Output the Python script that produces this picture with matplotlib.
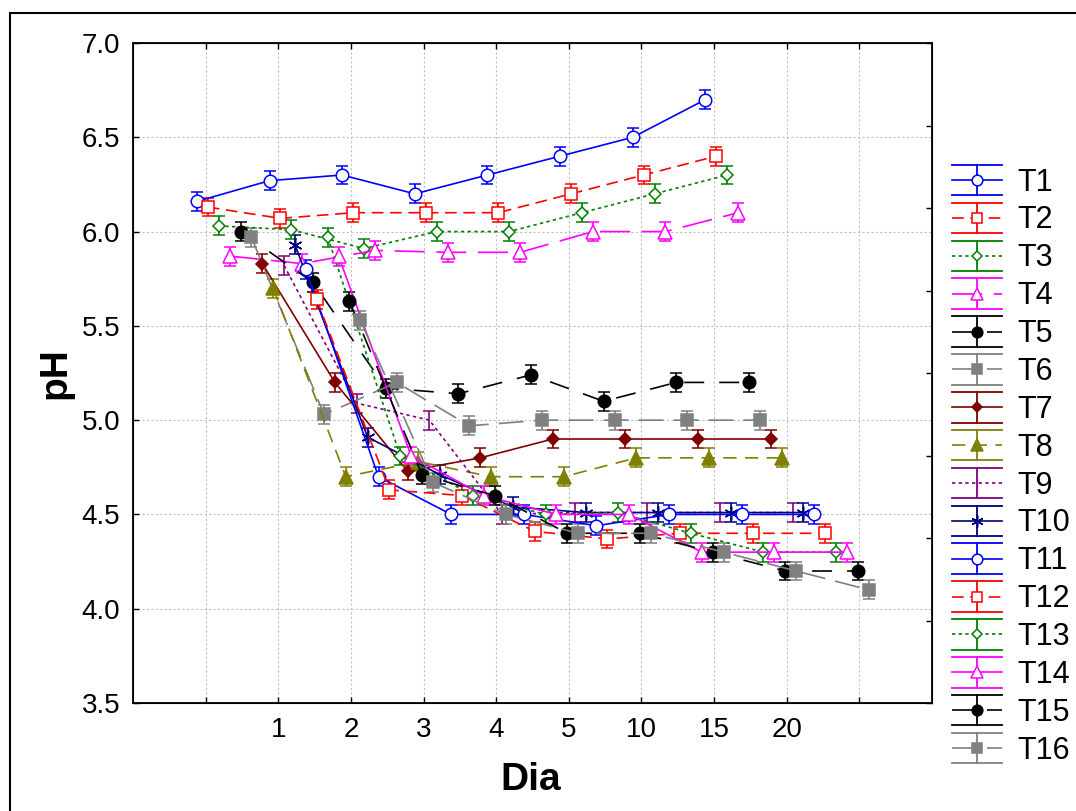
import matplotlib
matplotlib.use('Agg')
import matplotlib.pyplot as plt
from matplotlib.lines import Line2D
from matplotlib.legend_handler import HandlerBase
from matplotlib.patches import Rectangle

plt.rcParams['font.family'] = ['Liberation Sans', 'DejaVu Sans']

# eixo x: posicoes iguais, rotulos dos dias
dia_labels = ['', '1', '2', '3', '4', '5', '10', '15', '20', '']

# valores de pH por tratamento (8 pontos cada)
T1 = [6.16, 6.27, 6.30, 6.20, 6.30, 6.40, 6.50, 6.70]
T2 = [6.13, 6.07, 6.10, 6.10, 6.10, 6.20, 6.30, 6.40]
T3 = [6.03, 6.01, 5.91, 6.00, 6.00, 6.10, 6.20, 6.30]
T4 = [5.87, 5.83, 5.90, 5.89, 5.89, 6.00, 6.00, 6.10]
T5 = [6.00, 5.73, 5.17, 5.14, 5.24, 5.10, 5.20, 5.20]
T6 = [5.97, 5.03, 5.20, 4.97, 5.00, 5.00, 5.00, 5.00]
T7 = [5.83, 5.20, 4.73, 4.80, 4.90, 4.90, 4.90, 4.90]
T8 = [5.70, 4.70, 4.78, 4.70, 4.70, 4.80, 4.80, 4.80]
T9 = [5.82, 5.09, 5.00, 4.50, 4.51, 4.51, 4.51, 4.51]
T10 = [5.93, 4.91, 4.71, 4.54, 4.51, 4.51, 4.51, 4.51]
T11 = [5.80, 4.70, 4.50, 4.50, 4.44, 4.50, 4.50, 4.50]
T12 = [5.64, 4.63, 4.60, 4.41, 4.37, 4.40, 4.40, 4.40]
T13 = [5.97, 4.81, 4.60, 4.50, 4.51, 4.40, 4.30, 4.30]
T14 = [5.87, 4.81, 4.60, 4.50, 4.50, 4.30, 4.30, 4.30]
T15 = [5.63, 4.71, 4.60, 4.40, 4.40, 4.30, 4.20, 4.20]
T16 = [5.53, 4.67, 4.50, 4.40, 4.40, 4.30, 4.20, 4.10]
erro = 0.05  # erro padrao (aprox. igual em todos)

series = [T1, T2, T3, T4, T5, T6, T7, T8, T9, T10, T11, T12, T13, T14, T15, T16]
nomes = ['T%d' % (i + 1) for i in range(16)]

# estilo de cada serie (cor, linha, marcador, preenchimento, tamanho)
cores = ['#0000ff', '#ff0000', '#008000', '#ff00ff', '#000000', '#808080', '#800000', '#808000',
         '#800080', '#000080', '#0000ff', '#ff0000', '#008000', '#ff00ff', '#000000', '#808080']
linhas = ['-', (0, (7, 4)), (0, (2, 2)), (0, (18, 7)), (0, (12, 9)), (0, (15, 6)), '-', (0, (8, 5)),
          (0, (2, 2)), '-', '-', (0, (7, 4)), (0, (2, 2)), '-', (0, (12, 9)), (0, (15, 6))]
marcas = ['o', 's', 'D', '^', 'o', 's', 'D', '^', 'None', (6, 2, 0), 'o', 's', 'D', '^', 'o', 's']
cheio = [False, False, False, False, True, True, True, True,
         False, False, False, False, False, False, True, True]
tam = [9, 8.5, 6.5, 9.5, 9, 8.5, 6.5, 9.5, 8, 10, 9, 8.5, 6.5, 9.5, 9, 8.5]

fig = plt.figure(figsize=(10.76, 8.11), dpi=100)
ax = fig.add_axes([133 / 1076, 108 / 811, 799 / 1076, 660 / 811])

proxies = []
for i, ys in enumerate(series):
    desloc = -0.12 + 0.15 * i  # deslocamento de cada serie
    xs = [k + desloc for k in range(len(ys))]
    fc = cores[i] if cheio[i] else 'white'
    ax.errorbar(xs, ys, yerr=erro, color=cores[i], ls=linhas[i], lw=1.2,
                marker=marcas[i], ms=tam[i], mfc=fc, mec=cores[i], mew=1.1,
                capsize=4.5, capthick=1.2, elinewidth=1.2, zorder=3 + i * 0.01)
    proxies.append(Line2D([], [], color=cores[i], ls=linhas[i], lw=1.2, marker=marcas[i],
                          ms=tam[i] * 0.85, mfc=fc, mec=cores[i], mew=1.1))

ax.set_xlim(-1, 10)
ax.set_ylim(3.5, 7.0)
ax.set_xticks(range(len(dia_labels)))
ax.set_xticklabels(dia_labels)
ax.set_yticks([3.5 + 0.5 * k for k in range(8)])
ax.set_yticklabels(['%.1f' % (3.5 + 0.5 * k) for k in range(8)])
ax.tick_params(direction='in', length=4, width=1, labelsize=20, top=True, right=False)
ax.tick_params(axis='y', pad=9)
ax.tick_params(axis='x', pad=10)
ax.grid(True, color='#c0c0c0', ls=(0, (2, 2)), lw=0.8)
ax.set_axisbelow(True)
for s in ax.spines.values():
    s.set_linewidth(1.3)

# eixo direito com marcas proprias
ax2 = ax.twinx()
ax2.set_ylim(0, 8)
ax2.set_yticks(range(9))
ax2.tick_params(direction='in', length=4, width=1, labelright=False)

ax.set_xlabel('Dia', fontsize=28, fontweight='bold')
ax.set_ylabel('pH', fontsize=28, fontweight='bold')
ax.xaxis.set_label_coords(0.498, -0.09)
ax.yaxis.set_label_coords(-0.075, 0.5)


class HandlerErro(HandlerBase):
    # legenda estilo statistica: barras largas em cima e em baixo
    def create_artists(self, legend, orig, xdescent, ydescent, width, height, fontsize, trans):
        x0 = -xdescent
        yc = -ydescent + height / 2
        cap = 0.5 * fontsize
        c = orig.get_color()
        arts = []
        for y in (yc + cap, yc - cap):
            arts.append(Line2D([x0, x0 + width], [y, y], color=c, lw=1.3))
        arts.append(Line2D([x0 + width / 2] * 2, [yc - cap, yc + cap], color=c, lw=1.3))
        meio = Line2D([x0, x0 + width], [yc, yc])
        meio.update_from(orig)
        meio.set_marker('None')
        arts.append(meio)
        mk = Line2D([x0 + width / 2], [yc])
        mk.update_from(orig)
        mk.set_linestyle('None')
        arts.append(mk)
        for a in arts:
            a.set_transform(trans)
        return arts


fig.legend(proxies, nomes, loc='center left', bbox_to_anchor=(952 / 1076, 0.4254),
           frameon=False, fontsize=22, handlelength=1.64, handleheight=1.0,
           handletextpad=0.49, labelspacing=0.22, borderpad=0, borderaxespad=0,
           handler_map={Line2D: HandlerErro()})

# moldura externa da figura
fig.patches.append(Rectangle((9.5 / 1076, -0.1), 1.2, (811 - 13) / 811 + 0.1,
                             transform=fig.transFigure, fill=False, lw=1.5,
                             edgecolor='black', clip_on=False))

fig.savefig('out.png', dpi=100)
